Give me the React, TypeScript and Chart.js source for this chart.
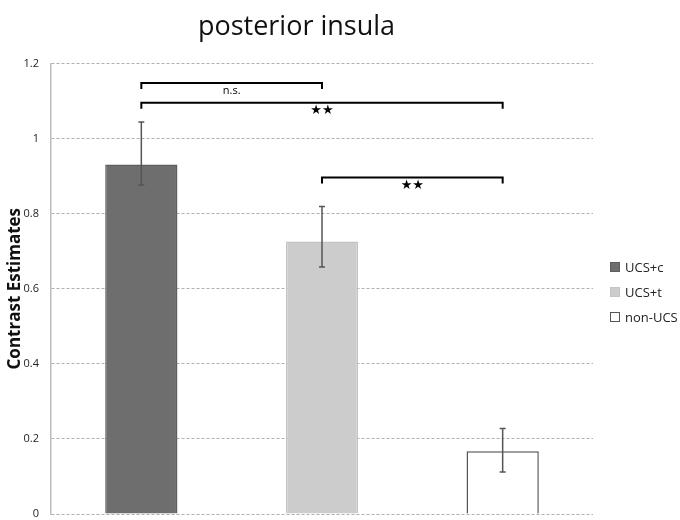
import React, { useEffect, useRef } from 'react';
import { Chart, registerables } from 'chart.js';

Chart.register(...registerables);

// data
const categories = ['UCS+c', 'UCS+t', 'non-UCS'];
const means = [0.931, 0.726, 0.167];
const errUpper = [1.044, 0.819, 0.228];
const errLower = [0.876, 0.658, 0.112];
const yTickLabels = ['0', '0.2', '0.4', '0.6', '0.8', '1', '1.2'];

// significance brackets
const bracketFrom = [0, 0, 1];
const bracketTo = [1, 2, 2];
const bracketLevel = [1.148, 1.095, 0.896];
const bracketLabels = ['n.s.', '★★', '★★'];

const fillColors = ['#6e6e6e', '#cccccc', '#ffffff'];
const borderColors = ['#5e5e5e', '#c4c4c4', '#555555'];

const FONT = '"Open Sans", "Noto Sans", sans-serif';

const errorBarPlugin = {
  id: 'errorBars',
  afterDatasetsDraw(chart: any) {
    const { ctx } = chart;
    const x = chart.scales.x;
    const y = chart.scales.y;
    ctx.save();
    ctx.strokeStyle = '#555';
    ctx.lineWidth = 1.5;
    categories.forEach((_, i) => {
      const px = x.getPixelForValue(i);
      const top = y.getPixelForValue(errUpper[i]);
      const bot = y.getPixelForValue(errLower[i]);
      ctx.beginPath();
      ctx.moveTo(px, top);
      ctx.lineTo(px, bot);
      ctx.moveTo(px - 3, top);
      ctx.lineTo(px + 3, top);
      ctx.moveTo(px - 3, bot);
      ctx.lineTo(px + 3, bot);
      ctx.stroke();
    });
    ctx.restore();
  },
};

const bracketPlugin = {
  id: 'brackets',
  afterDatasetsDraw(chart: any) {
    const { ctx } = chart;
    const x = chart.scales.x;
    const y = chart.scales.y;
    ctx.save();
    ctx.strokeStyle = '#000';
    ctx.fillStyle = '#000';
    ctx.lineWidth = 2;
    ctx.textAlign = 'center';
    ctx.textBaseline = 'middle';
    bracketLevel.forEach((lvl, i) => {
      const x1 = x.getPixelForValue(bracketFrom[i]);
      const x2 = x.getPixelForValue(bracketTo[i]);
      const py = y.getPixelForValue(lvl);
      ctx.beginPath();
      ctx.moveTo(x1, py + 6);
      ctx.lineTo(x1, py);
      ctx.lineTo(x2, py);
      ctx.lineTo(x2, py + 6);
      ctx.stroke();
      const isStars = bracketLabels[i] !== 'n.s.';
      ctx.font = isStars ? `13px "DejaVu Sans", sans-serif` : `11px ${FONT}`;
      ctx.fillText(bracketLabels[i], (x1 + x2) / 2, py + 8);
    });
    ctx.restore();
  },
};

const App = () => {
  const canvasRef = useRef<HTMLCanvasElement>(null);
  const chartRef = useRef<Chart | null>(null);

  useEffect(() => {
    document.body.style.margin = '0';
    if (!canvasRef.current) return;
    if (chartRef.current) chartRef.current.destroy();

    chartRef.current = new Chart(canvasRef.current, {
      type: 'bar',
      data: {
        labels: categories,
        datasets: [
          {
            data: means,
            backgroundColor: fillColors,
            borderColor: borderColors,
            borderWidth: 1.5,
            barPercentage: 0.4,
            categoryPercentage: 1,
          },
        ],
      },
      options: {
        responsive: true,
        maintainAspectRatio: false,
        animation: false,
        layout: { padding: { left: 0, right: 87, bottom: 6, top: 0 } },
        plugins: {
          legend: { display: false },
          tooltip: { enabled: false },
          title: {
            display: true,
            text: 'posterior insula',
            color: '#111',
            font: { family: FONT, size: 27, weight: 'normal' },
            padding: { top: 11, bottom: 20 },
          },
        },
        scales: {
          x: {
            ticks: { display: false },
            grid: { display: false },
            border: { display: false },
            afterFit: (scale: any) => {
              scale.height = 0;
              scale.paddingTop = 0;
              scale.paddingBottom = 0;
            },
          },
          y: {
            min: 0,
            max: 1.2,
            ticks: {
              stepSize: 0.2,
              padding: 12,
              color: '#222',
              font: { family: FONT, size: 11 },
              callback: (_v: any, i: number) => yTickLabels[i],
            },
            grid: { color: '#b0b0b0', drawTicks: false, lineWidth: 1 },
            border: { display: true, color: '#bdbdbd', width: 1.5, dash: [3, 2] },
            title: {
              display: true,
              text: 'Contrast Estimates',
              color: '#111',
              font: { family: FONT, size: 17, weight: 'bold' },
              padding: { top: 5, bottom: 0 },
            },
            afterFit: (scale: any) => {
              scale.width = 51;
              scale.paddingBottom = 0;
            },
          },
        },
      },
      plugins: [errorBarPlugin, bracketPlugin],
    });

    return () => {
      if (chartRef.current) {
        chartRef.current.destroy();
        chartRef.current = null;
      }
    };
  }, []);

  return (
    <div style={{ position: 'relative', width: 680, height: 520 }}>
      <canvas ref={canvasRef} />
      {/* legend */}
      <div style={{ position: 'absolute', left: 610, top: 254, fontFamily: FONT, fontSize: 13, color: '#222' }}>
        {categories.map((c, i) => (
          <div key={c} style={{ display: 'flex', alignItems: 'center', height: 25 }}>
            <span
              style={{
                width: 8,
                height: 8,
                marginRight: 5,
                background: fillColors[i],
                border: `1px solid ${borderColors[i]}`,
              }}
            />
            {c}
          </div>
        ))}
      </div>
    </div>
  );
};

export default App;
